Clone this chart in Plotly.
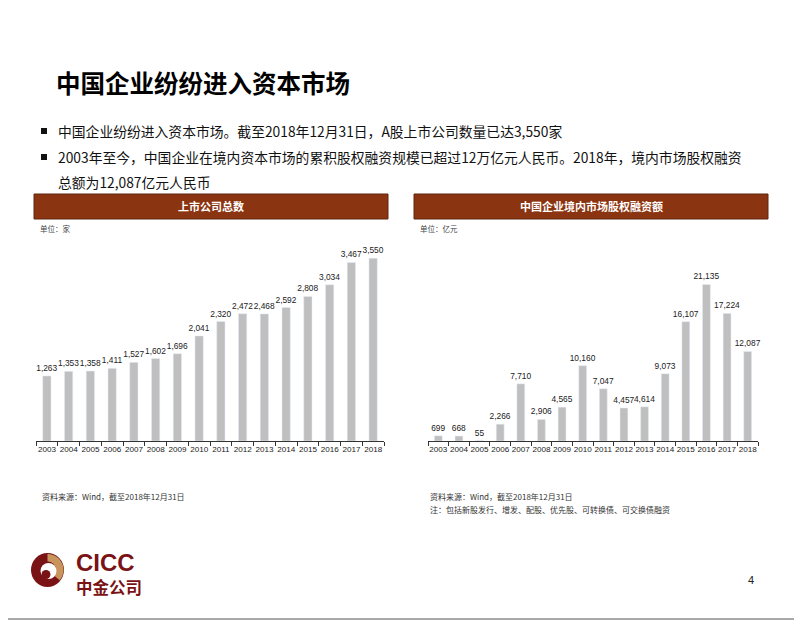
import math
import plotly.graph_objects as go

# ---- data ----
years = [str(y) for y in range(2003, 2019)]
listed_companies = [1263, 1353, 1358, 1411, 1527, 1602, 1696, 2041, 2320,
                    2472, 2468, 2592, 2808, 3034, 3467, 3550]
equity_financing = [699, 668, 55, 2266, 7710, 2906, 4565, 10160, 7047,
                    4457, 4614, 9073, 16107, 21135, 17224, 12087]

page_title = "中国企业纷纷进入资本市场"
bullet_1 = "中国企业纷纷进入资本市场。截至2018年12月31日，A股上市公司数量已达3,550家"
bullet_2a = "2003年至今，中国企业在境内资本市场的累积股权融资规模已超过12万亿元人民币。2018年，境内市场股权融资"
bullet_2b = "总额为12,087亿元人民币"
left_header = "上市公司总数"
right_header = "中国企业境内市场股权融资额"
left_unit = "单位：家"
right_unit = "单位：亿元"
source_note = "资料来源：Wind，截至2018年12月31日"
right_note = "注：包括新股发行、增发、配股、优先股、可转换债、可交换债融资"

# the page body has an 8px margin; the figure fills the rest of the window
OFF = 8
W, H = 802 - OFF, 620 - OFF
def fx(x): return (x - OFF) / W
def fy(y): return 1 - (y - OFF) / H

CJK = "Noto Sans CJK SC"
ARIAL = "Liberation Sans"
BAR = "#BFBFBF"
BROWN = "#8B3411"
DARKRED = "#7A1315"
TAN = "#C8955C"

fig = go.Figure()
fig.add_trace(go.Bar(
    x=years, y=listed_companies, xaxis="x", yaxis="y", marker_color=BAR,
    text=[f"{v:,}" for v in listed_companies], textposition="outside",
    textfont=dict(size=8.4, color="#222", family=ARIAL), cliponaxis=False,
    constraintext="none", hoverinfo="skip", showlegend=False))
fig.add_trace(go.Bar(
    x=years, y=equity_financing, xaxis="x2", yaxis="y2", marker_color=BAR,
    text=[f"{v:,}" for v in equity_financing], textposition="outside",
    textfont=dict(size=8.4, color="#222", family=ARIAL), cliponaxis=False,
    constraintext="none", hoverinfo="skip", showlegend=False))

axis_common = dict(showline=True, linecolor="#333", linewidth=1, ticks="outside",
                   tickson="boundaries", ticklen=4, tickcolor="#333", tickangle=0,
                   tickfont=dict(size=8.1, color="#222", family=ARIAL),
                   showgrid=False, zeroline=False, fixedrange=True)

fig.update_layout(
    width=W, height=H, margin=dict(l=0, r=0, t=0, b=0),
    paper_bgcolor="white", plot_bgcolor="white",
    bargap=0.62,
    xaxis=dict(domain=[fx(36), fx(384)], anchor="y", **axis_common),
    yaxis=dict(domain=[fy(441), fy(235)], range=[0, 4000], visible=False, fixedrange=True),
    xaxis2=dict(domain=[fx(428), fx(758)], anchor="y2", **axis_common),
    yaxis2=dict(domain=[fy(441), fy(235)], range=[0, 27800], visible=False, fixedrange=True),
)

shapes = []
# page border (right and bottom edges are visible in the window)
shapes.append(dict(type="line", xref="paper", yref="paper", x0=fx(801), x1=fx(801),
                   y0=0, y1=1, line=dict(color="#8c8c8c", width=1.5)))
shapes.append(dict(type="line", xref="paper", yref="paper", x0=0, x1=1,
                   y0=fy(619), y1=fy(619), line=dict(color="#8c8c8c", width=1.5)))
# header bars
for x0, x1 in [(34, 388), (414, 768)]:
    shapes.append(dict(type="rect", xref="paper", yref="paper",
                       x0=fx(x0), x1=fx(x1), y0=fy(219), y1=fy(194),
                       fillcolor=BROWN, line=dict(color="#5e2410", width=1)))
# bullet squares
for yc in [131, 157]:
    shapes.append(dict(type="rect", xref="paper", yref="paper",
                       x0=fx(41), x1=fx(47), y0=fy(yc + 3), y1=fy(yc - 3),
                       fillcolor="#111", line=dict(width=0)))

# logo
cx, cy, R = 47.5, 570, 16.5
shapes.append(dict(type="circle", xref="paper", yref="paper",
                   x0=fx(cx - R), x1=fx(cx + R), y0=fy(cy + R + 0.5), y1=fy(cy - R - 0.5),
                   fillcolor=DARKRED, line=dict(width=0)))
def ring_path(cx, cy, r_out, r_in, a0, a1, n=30):
    pts = []
    for i in range(n + 1):
        a = math.radians(a0 + (a1 - a0) * i / n)
        pts.append((cx + r_out * math.cos(a), cy - r_out * math.sin(a)))
    for i in range(n + 1):
        a = math.radians(a1 + (a0 - a1) * i / n)
        pts.append((cx + r_in * math.cos(a), cy - r_in * math.sin(a)))
    return "M " + " L ".join(f"{fx(x):.5f},{fy(y):.5f}" for x, y in pts) + " Z"
shapes.append(dict(type="path", xref="paper", yref="paper",
                   path=ring_path(cx, cy, R - 0.5, 8.5, 90, -40),
                   fillcolor=TAN, line=dict(width=0)))
shapes.append(dict(type="circle", xref="paper", yref="paper",
                   x0=fx(cx - 7), x1=fx(cx + 9), y0=fy(cy + 9), y1=fy(cy - 7),
                   fillcolor="white", line=dict(width=0)))
shapes.append(dict(type="circle", xref="paper", yref="paper",
                   x0=fx(cx - 6), x1=fx(cx + 3), y0=fy(cy + 9), y1=fy(cy),
                   fillcolor=DARKRED, line=dict(width=0)))
fig.update_layout(shapes=shapes)

ann = []
def add_text(x, y, text, size, color="#111", family=CJK, xanchor="left", weight="normal"):
    ann.append(dict(x=fx(x), y=fy(y), xref="paper", yref="paper", text=text,
                    showarrow=False, xanchor=xanchor, yanchor="middle",
                    font=dict(size=size, color=color, family=family, weight=weight)))

add_text(54, 82, page_title, 24.5, color="#000", weight="bold")
add_text(56, 131, bullet_1, 13.8, color="#111")
add_text(56, 157, bullet_2a, 13.8, color="#111")
add_text(56, 182, bullet_2b, 13.8, color="#111")
add_text(211, 206, left_header, 11, color="white", xanchor="center", weight="bold")
add_text(591, 206, right_header, 11, color="white", xanchor="center", weight="bold")
add_text(38, 228, left_unit, 7.5, color="#444")
add_text(418, 228, right_unit, 7.5, color="#444")
add_text(40, 496, source_note, 8, color="#333")
add_text(428, 496, source_note, 8, color="#333")
add_text(428, 509, right_note, 8, color="#333")
add_text(74, 562, "CICC", 24, color=DARKRED, family="Liberation Sans", weight="bold")
add_text(74, 587, "中金公司", 16.5, color=DARKRED, weight="bold")
add_text(751, 580, "4", 11, color="#222", family="Liberation Sans", xanchor="center")
fig.update_layout(annotations=ann)

fig.write_html("out.html")
